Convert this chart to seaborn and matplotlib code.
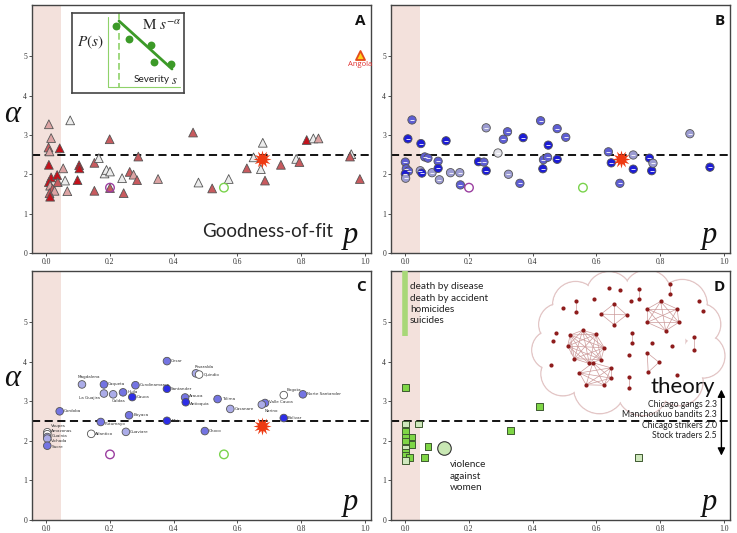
import numpy as np
import pandas as pd
import matplotlib
matplotlib.use("Agg")
import matplotlib.pyplot as plt
import seaborn as sns
from matplotlib.patches import Ellipse
from itertools import combinations

# ---------------- data ----------------
XTICKS = [0.0, 0.2, 0.4, 0.6, 0.8, 1.0]
YTICKS = [0, 1, 2, 3, 4, 5]
ALPHA_THEORY = 2.5
STAR = (0.677, 2.39)
GREEN_REF = (0.558, 1.66)
PURPLE_REF = (0.200, 1.66)

# Panel A: wars (triangles)
a_x = [0.008, 0.075, 0.015, 0.007, 0.010, 0.042, 0.008, 0.053, 0.015, 0.034, 0.008, 0.036,
       0.059, 0.012, 0.020, 0.026, 0.010, 0.012, 0.066, 0.103, 0.104, 0.098, 0.151, 0.165,
       0.151, 0.183, 0.189, 0.200, 0.199, 0.200, 0.238, 0.243, 0.262, 0.274, 0.285, 0.289,
       0.351, 0.461, 0.478, 0.521, 0.573, 0.630, 0.651, 0.680, 0.674, 0.687, 0.737, 0.785,
       0.795, 0.818, 0.839, 0.855, 0.958, 0.954, 0.985]
a_y = [3.27, 3.37, 2.92, 2.68, 2.58, 2.66, 2.24, 2.15, 1.92, 1.98, 1.80, 1.80,
       1.84, 1.71, 1.63, 1.58, 1.52, 1.43, 1.57, 2.23, 2.15, 1.85, 2.29, 2.41,
       1.58, 2.02, 2.11, 2.07, 2.89, 1.65, 1.90, 1.52, 2.06, 1.99, 1.85, 2.45,
       1.88, 3.06, 1.79, 1.64, 1.88, 2.15, 2.43, 2.80, 2.13, 1.84, 2.24, 2.39,
       2.31, 2.87, 2.91, 2.91, 2.51, 2.45, 1.88]
a_shade = ["light", "white", "light", "mid", "light", "dark", "dark", "light", "dark", "dark", "dark", "mid",
           "white", "light", "mid", "light", "mid", "dark", "light", "dark", "dark", "dark", "mid", "white",
           "mid", "white", "white", "white", "mid", "mid", "white", "mid", "mid", "light", "mid", "mid",
           "light", "mid", "white", "mid", "white", "mid", "white", "white", "white", "mid", "mid", "white",
           "mid", "dark", "white", "light", "white", "mid", "mid"]
ANGOLA = (0.985, 5.02)

# Panel B: circles
b_x = [0.021, 0.008, 0.049, 0.128, 0.000, 0.003, 0.010, 0.000, 0.001, 0.047, 0.052, 0.061,
       0.071, 0.084, 0.103, 0.103, 0.107, 0.142, 0.171, 0.173, 0.230, 0.247, 0.254, 0.254,
       0.291, 0.308, 0.321, 0.324, 0.360, 0.370, 0.425, 0.432, 0.434, 0.447, 0.449, 0.477,
       0.477, 0.504, 0.638, 0.647, 0.674, 0.716, 0.716, 0.767, 0.774, 0.778, 0.894, 0.957]
b_y = [3.38, 2.90, 2.78, 2.85, 2.31, 2.14, 2.08, 2.01, 1.90, 2.09, 2.03, 2.44,
       2.41, 2.04, 2.33, 2.15, 1.86, 2.04, 2.04, 1.73, 2.32, 2.31, 2.09, 3.18,
       2.54, 2.89, 3.08, 2.00, 1.77, 2.93, 3.36, 2.14, 2.37, 2.43, 2.74, 3.16,
       2.38, 2.94, 2.57, 2.29, 1.77, 2.49, 2.13, 2.41, 2.09, 2.28, 3.03, 2.18]
b_shade = ["mid", "dark", "dark", "dark", "mid", "mid", "mid", "dark", "light", "light", "dark", "mid",
           "mid", "light", "mid", "dark", "light", "light", "light", "mid", "dark", "mid", "dark", "light",
           "white", "mid", "mid", "light", "mid", "dark", "mid", "dark", "mid", "mid", "dark", "mid",
           "dark", "mid", "mid", "dark", "mid", "light", "dark", "dark", "dark", "light", "light", "dark"]

# Panel C: Colombian departments
c_name = ["Cesar", "Risaralda", "Quindio", "Magdalena", "Caqueta", "Cundinamarca", "Santander",
          "La Guajira", "Caldas", "Huila", "Cauca", "Arauca", "Antioquia", "Tolima", "Bogota",
          "Norte Santander", "Valle Cauca", "Narino", "Casanare", "Cordoba", "Boyaca", "Putumayo",
          "Meta", "Bolivar", "Choco", "Guaviare", "Atlantico", "Vaupes", "Amazonas", "Guainia",
          "Vichada", "Sucre"]
c_x = [0.379, 0.470, 0.480, 0.112, 0.181, 0.280, 0.379, 0.181, 0.210, 0.241, 0.270, 0.436, 0.438,
       0.538, 0.746, 0.806, 0.687, 0.677, 0.578, 0.042, 0.260, 0.171, 0.379, 0.746, 0.498, 0.250,
       0.141, 0.003, 0.003, 0.003, 0.003, 0.003]
c_y = [4.02, 3.71, 3.68, 3.43, 3.43, 3.41, 3.32, 3.20, 3.18, 3.23, 3.11, 3.10, 2.98,
       3.06, 3.16, 3.18, 2.96, 2.92, 2.81, 2.75, 2.65, 2.48, 2.51, 2.58, 2.25, 2.23,
       2.18, 2.22, 2.17, 2.10, 2.06, 1.88]
c_shade = ["mid", "light", "white", "light", "mid", "mid", "dark", "light", "light", "mid", "dark",
           "mid", "dark", "mid", "white", "mid", "mid", "light", "light", "mid", "mid", "mid", "dark",
           "dark", "mid", "light", "white", "white", "white", "light", "light", "mid"]

# Panel D: other human conflict / violence datasets (squares)
d_x = [0.000, 0.422, 0.042, 0.000, 0.000, 0.000, 0.021, 0.000, 0.021, 0.000, 0.071, 0.000,
       0.000, 0.0125, 0.000, 0.060, 0.331, 0.732]
d_y = [3.36, 2.87, 2.43, 2.43, 2.25, 2.10, 2.10, 2.00, 1.92, 1.81, 1.85, 1.72,
       1.64, 1.59, 1.51, 1.58, 2.27, 1.59]
d_shade = ["bright", "bright", "pale", "pale", "bright", "bright", "bright", "bright", "bright",
           "pale", "bright", "bright", "bright", "bright", "pale", "bright", "bright", "pale"]
VAW = (0.122, 1.81)
d_causes = ["death by disease", "death by accident", "homicides", "suicides"]
d_theory = ["Chicago gangs 2.3", "Manchoukuo bandits 2.3", "Chicago strikers 2.0", "Stock traders 2.5"]

# network graphic inside the cloud of panel D
net_groups = [
    [(0.557, 4.80), (0.599, 4.70), (0.625, 4.36), (0.615, 4.06), (0.578, 3.96), (0.531, 4.08), (0.510, 4.40), (0.518, 4.68)],
    [(0.589, 3.98), (0.646, 3.85), (0.646, 3.59), (0.625, 3.41), (0.568, 3.42), (0.547, 3.72)],
    [(0.760, 5.34), (0.802, 5.53), (0.854, 5.34), (0.859, 5.00), (0.818, 4.79), (0.760, 5.00)],
    [(0.615, 5.21), (0.656, 5.47), (0.695, 5.19), (0.656, 4.94)],
    [(0.536, 5.55), (0.536, 5.26)], [(0.734, 5.85), (0.734, 5.60)], [(0.830, 5.98), (0.830, 5.72)],
    [(0.908, 4.64), (0.908, 4.30)], [(0.711, 4.73), (0.711, 4.47)], [(0.703, 3.61), (0.703, 3.34)],
    [(0.760, 4.23), (0.797, 3.99), (0.763, 3.74)],
]
net_single_x = [0.495, 0.594, 0.641, 0.674, 0.708, 0.922, 0.934, 0.458, 0.839, 0.854, 0.774, 0.474, 0.464, 0.703]
net_single_y = [5.36, 5.60, 5.87, 5.81, 5.55, 5.53, 5.30, 3.91, 4.40, 3.68, 4.49, 4.74, 4.53, 4.17]
cloud_x = [0.535, 0.640, 0.760, 0.870, 0.925, 0.935, 0.860, 0.745, 0.610, 0.495, 0.460, 0.485, 0.700]
cloud_y = [5.45, 5.70, 5.72, 5.45, 4.95, 4.15, 3.50, 3.30, 3.35, 3.70, 4.30, 4.95, 4.55]
cloud_r = [23, 23, 24, 25, 21, 22, 24, 26, 26, 22, 20, 21, 58]   # radius in pixels

# inset (power-law sketch), coordinates inside the inset box
ins_dot_x = [44, 57, 79, 82, 99]
ins_dot_y = [13, 26, 32, 49, 51]

# ---------------- figure ----------------
sns.set_theme(style="white")
plt.rcParams["font.family"] = ["Lato", "DejaVu Sans"]
plt.rcParams["mathtext.fontset"] = "stix"

W, H = 737, 533
fig = plt.figure(figsize=(W / 100, H / 100), dpi=100)

def fa(l, t, r, b):
    return [l / W, 1 - b / H, (r - l) / W, (b - t) / H]

axA = fig.add_axes(fa(32, 5, 371, 253))
axB = fig.add_axes(fa(391, 5, 730, 253))
axC = fig.add_axes(fa(32, 271, 371, 520))
axD = fig.add_axes(fa(391, 271, 730, 520))

SERIF = ["Liberation Serif", "DejaVu Serif"]

def style(ax):
    ax.set_xlim(-0.045, 1.02)
    ax.set_ylim(0, 6.3)
    ax.set_xticks(XTICKS)
    ax.set_yticks(YTICKS)
    ax.set_xticklabels([f"{t:.1f}" for t in XTICKS], fontfamily=SERIF, fontsize=5.5)
    ax.set_yticklabels([str(t) for t in YTICKS], fontfamily=SERIF, fontsize=5.5)
    ax.tick_params(length=2, width=0.6, pad=1.5, colors="#333", direction="out",
                   bottom=True, left=True)
    ax.axvspan(-0.045, 0.045, color="#f3e1dc", lw=0, zorder=0)
    ax.axhline(ALPHA_THEORY, color="black", ls=(0, (4.5, 2.5)), lw=1.3, zorder=1)
    for s in ax.spines.values():
        s.set_color("#444")
        s.set_linewidth(1.0)
    ax.set_xlabel("")
    ax.set_ylabel("")

def refs(ax):
    ax.scatter([STAR[0]], [STAR[1]], marker=(12, 1, 0), s=170, color="#ee3a12", lw=0, zorder=6)
    ax.scatter([GREEN_REF[0]], [GREEN_REF[1]], marker="o", s=38, facecolor="none",
               edgecolor="#7ad34c", lw=1.0, zorder=6)
    ax.scatter([PURPLE_REF[0]], [PURPLE_REF[1]], marker="o", s=38, facecolor="none",
               edgecolor="#9b3fa0", lw=1.0, zorder=6)

# ---- Panel A ----
style(axA)
dfA = pd.DataFrame({"p": a_x, "alpha": a_y, "shade": a_shade})
palA = {"dark": "#c3121c", "mid": "#c85a5e", "light": "#dca3a3", "white": "#ececec"}
sns.scatterplot(data=dfA, x="p", y="alpha", hue="shade", palette=palA, marker="^", s=40,
                edgecolor="#555", linewidth=0.6, legend=False, ax=axA, zorder=4)
refs(axA)
axA.scatter([ANGOLA[0]], [ANGOLA[1]], marker="^", s=42, facecolor="#ffd21a",
            edgecolor="#e44a1a", lw=1.3, zorder=5)
axA.text(ANGOLA[0], ANGOLA[1] - 0.13, "Angola", color="#e03030", fontsize=5.5,
         ha="center", va="top", family=["Open Sans", "DejaVu Sans"])
axA.text(0.49, 0.55, "Goodness-of-fit", fontsize=13.5, ha="left", va="center",
         family=["Lato", "DejaVu Sans"])
axA.set_xlabel("")
axA.set_ylabel("")

# ---- Panel B ----
style(axB)
dfB = pd.DataFrame({"p": b_x, "alpha": b_y, "shade": b_shade})
palB = {"dark": "#1c1cd6", "mid": "#5e5ed4", "light": "#9c9cd2", "white": "#e2e2ea"}
sns.scatterplot(data=dfB, x="p", y="alpha", hue="shade", palette=palB, marker="o", s=36,
                edgecolor="#555", linewidth=0.6, legend=False, ax=axB, zorder=4)
axB.scatter(b_x, b_y, marker="_", s=10, color="white", lw=0.6, zorder=5)
refs(axB)
axB.set_xlabel("")
axB.set_ylabel("")

# ---- Panel C ----
style(axC)
dfC = pd.DataFrame({"p": c_x, "alpha": c_y, "shade": c_shade, "name": c_name})
palC = {"dark": "#2e2ee6", "mid": "#7474e2", "light": "#abace8", "white": "#ffffff"}
sns.scatterplot(data=dfC, x="p", y="alpha", hue="shade", palette=palC, marker="o", s=30,
                edgecolor="#555", linewidth=0.6, legend=False, ax=axC, zorder=4)
special = {"Magdalena": (-3, 5, "left"), "Risaralda": (-1, 4.5, "left"),
           "La Guajira": (-3, -3, "right"), "Caldas": (-1, -4.5, "left"),
           "Narino": (2, -4.5, "left"), "Bogota": (2, 3.5, "left"),
           "Vaupes": (3, 4.8, "left"), "Amazonas": (3, 2.5, "left"),
           "Guainia": (3, 0.85, "left"), "Vichada": (3, -1.4, "left"),
           "Sucre": (3, -0.6, "left"),
           "Putumayo": (3, -1.2, "left"), "Antioquia": (3, -1, "left"),
           "Valle Cauca": (3, 1, "left"), "Arauca": (3, 1, "left")}
for nm, x, y in zip(c_name, c_x, c_y):
    dx, dy, ha = special.get(nm, (3, 0, "left"))
    axC.annotate(nm, (x, y), xytext=(dx, dy), textcoords="offset points", fontsize=3.0,
                 ha=ha, va="center", color="#333", family=["DejaVu Sans"], zorder=5)
refs(axC)
axC.set_xlabel("")
axC.set_ylabel("")

# ---- Panel D ----
style(axD)
# cloud: outlined lobes then white fill to hide inner outlines
pxu_x = (339) / (1.02 + 0.045)
pxu_y = (248) / 6.3
for cx, cy, r in zip(cloud_x, cloud_y, cloud_r):
    axD.add_patch(Ellipse((cx, cy), 2 * r / pxu_x, 2 * r / pxu_y, facecolor="none",
                          edgecolor="#e3c6c6", lw=1.0, zorder=2))
for cx, cy, r in zip(cloud_x, cloud_y, cloud_r):
    axD.add_patch(Ellipse((cx, cy), 2 * (r - 0.8) / pxu_x, 2 * (r - 0.8) / pxu_y,
                          facecolor="white", edgecolor="none", zorder=2.1))
for grp in net_groups:
    for (x1, y1), (x2, y2) in combinations(grp, 2):
        axD.plot([x1, x2], [y1, y2], color="#cc9a9a", lw=0.5, zorder=2.5)
    gx, gy = zip(*grp)
    axD.scatter(gx, gy, s=9, color="#8e1c1c", lw=0, zorder=3)
axD.scatter(net_single_x, net_single_y, s=9, color="#8e1c1c", lw=0, zorder=3)

dfD = pd.DataFrame({"p": d_x, "alpha": d_y, "shade": d_shade})
palD = {"bright": "#7fd646", "pale": "#cfe8bd"}
sns.scatterplot(data=dfD, x="p", y="alpha", hue="shade", palette=palD, marker="s", s=24,
                edgecolor="#3e5a30", linewidth=0.7, legend=False, ax=axD, zorder=4)
axD.scatter([VAW[0]], [VAW[1]], s=95, facecolor="#c9e8b4", edgecolor="#333", lw=0.8, zorder=5)
axD.text(VAW[0] + 0.017, VAW[1] - 0.3, "violence\nagainst\nwomen", fontsize=7.2,
         ha="left", va="top", linespacing=1.35, color="#222")
axD.plot([0.0, 0.0], [4.66, 6.3], color="#a8d878", lw=4, solid_capstyle="butt", zorder=3)
axD.text(0.014, 6.02, "\n".join(d_causes), fontsize=7.2, ha="left", va="top",
         linespacing=1.35, color="#222")
axD.text(0.972, 3.36, "theory", fontsize=16, ha="right", va="center", color="#111", zorder=5)
for i, t in enumerate(d_theory):
    axD.text(0.978, 2.92 - i * 0.26, t, fontsize=6.2, ha="right", va="center", color="#222",
             zorder=5)
axD.annotate("", xy=(0.993, 3.3), xytext=(0.993, 1.63),
             arrowprops=dict(arrowstyle="<|-|>", color="black", lw=1.0,
                             mutation_scale=11, shrinkA=0, shrinkB=0), zorder=6)
axD.set_xlabel("")
axD.set_ylabel("")

# panel letters, p labels, alpha labels
for ax, L in zip([axA, axB, axC, axD], "ABCD"):
    ax.text(0.985, 0.965, L, transform=ax.transAxes, fontsize=11, fontweight="bold",
            ha="right", va="top", color="#111", family=["Open Sans", "DejaVu Sans"])
    ax.text(0.94, 0.07, "p", transform=ax.transAxes, fontsize=22, style="italic",
            ha="center", va="center", family=SERIF, color="#111")
fig.text(12 / W, 1 - 115 / H, "α", fontsize=22, style="italic", family=SERIF,
         ha="center", va="center", color="#111")
fig.text(12 / W, 1 - 378 / H, "α", fontsize=22, style="italic", family=SERIF,
         ha="center", va="center", color="#111")

# inset
axI = fig.add_axes(fa(72, 13, 184, 93))
axI.set_xlim(0, 112)
axI.set_ylim(80, 0)
axI.set_xticks([])
axI.set_yticks([])
for s in axI.spines.values():
    s.set_color("#444")
    s.set_linewidth(1.2)
axI.plot([36, 36], [4, 74], color="#8fd26a", lw=0.8)
axI.plot([36, 108], [74, 74], color="#8fd26a", lw=0.8)
axI.plot([47, 47], [0, 74], color="#8fd26a", lw=1.2, ls=(0, (4, 2)))
axI.plot([47, 100], [8, 56], color="#3c9a28", lw=2.0)
axI.scatter(ins_dot_x, ins_dot_y, s=32, color="#3c9a28", lw=0, zorder=5)
axI.text(18, 29, r"$P(s)$", fontsize=11, ha="center", va="center")
axI.text(90, 13, r"$\mathrm{M}\ s^{-\alpha}$", fontsize=11, ha="center", va="center")
axI.text(80, 67, "Severity", fontsize=7.2, ha="center", va="center", color="#222")
axI.text(102, 67, r"$s$", fontsize=9, ha="center", va="center")

fig.savefig("out.png", dpi=100)
